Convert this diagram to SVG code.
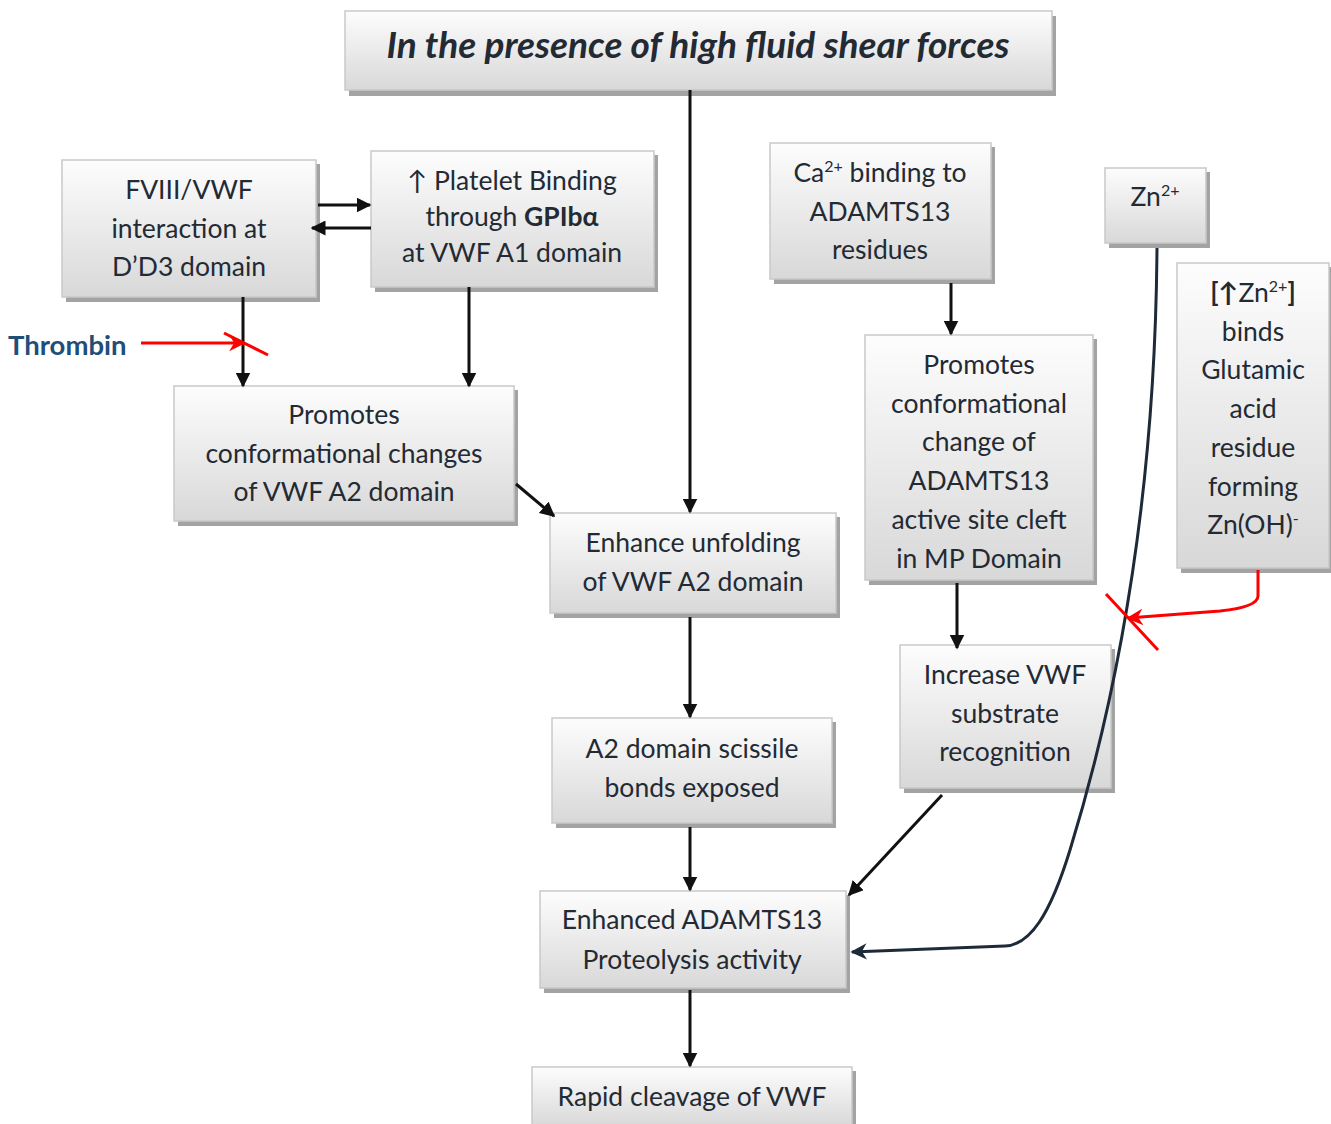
<svg xmlns="http://www.w3.org/2000/svg" width="1331" height="1124" viewBox="0 0 1331 1124">
<defs>
<linearGradient id="g" x1="0" y1="0" x2="0" y2="1">
<stop offset="0" stop-color="#fdfdfd"/>
<stop offset="1" stop-color="#d8d8d8"/>
</linearGradient>
<marker id="ah" viewBox="0 0 10 10" refX="9" refY="5" markerWidth="5" markerHeight="5" orient="auto" markerUnits="strokeWidth">
<path d="M0,0 L10,5 L0,10 z" fill="#111"/>
</marker>
<marker id="ahn" viewBox="0 0 10 10" refX="9" refY="5" markerWidth="5.5" markerHeight="5.5" orient="auto" markerUnits="strokeWidth">
<path d="M0,0 L10,5 L0,10 L3,5 z" fill="#1f2a38"/>
</marker>
<marker id="ahr" viewBox="0 0 10 10" refX="9" refY="5" markerWidth="5.5" markerHeight="5.5" orient="auto" markerUnits="strokeWidth">
<path d="M0,0 L10,5 L0,10 L3,5 z" fill="#ff0000"/>
</marker>
</defs>
<style>
.sh{fill:#a3a3a3}
.bx{fill:url(#g);stroke:#c9c9c9;stroke-width:1.5}
.t{font-family:Lato,"Liberation Sans",sans-serif;font-size:26.5px;fill:#232a34;text-anchor:middle}
.c{stroke:#111;stroke-width:3;fill:none;marker-end:url(#ah)}
.sup{font-size:16px}
</style>
<rect width="1331" height="1124" fill="#fff"/>

<g id="n-title">
<rect class="sh" x="349" y="16" width="707" height="80"/>
<rect class="bx" x="345" y="11" width="707" height="79"/>
<text class="t" x="698" y="58" style="font-size:37px;font-style:italic;font-weight:bold">In the presence of high fluid shear forces</text>
</g>

<g id="n-fviii">
<rect class="sh" x="66" y="164" width="254" height="138"/>
<rect class="bx" x="62" y="160" width="254" height="137"/>
<text class="t" x="189" y="199">FVIII/VWF</text>
<text class="t" x="189" y="238">interaction at</text>
<text class="t" x="189" y="276">D’D3 domain</text>
</g>

<g id="n-platelet">
<rect class="sh" x="375" y="155" width="283" height="137"/>
<rect class="bx" x="371" y="151" width="283" height="136"/>
<text class="t" x="512" y="190">↑ Platelet Binding</text>
<text class="t" x="512" y="226">through <tspan font-weight="bold">GPIbα</tspan></text>
<text class="t" x="512" y="262">at VWF A1 domain</text>
</g>

<g id="n-ca">
<rect class="sh" x="774" y="147" width="221" height="137"/>
<rect class="bx" x="770" y="143" width="221" height="136"/>
<text class="t" x="880" y="182">Ca<tspan class="sup" dy="-10">2+</tspan><tspan dy="10"> binding to</tspan></text>
<text class="t" x="880" y="221">ADAMTS13</text>
<text class="t" x="880" y="259">residues</text>
</g>

<g id="n-zn">
<rect class="sh" x="1109" y="172" width="101" height="76"/>
<rect class="bx" x="1105" y="168" width="101" height="75"/>
<text class="t" x="1155" y="206">Zn<tspan class="sup" dy="-10">2+</tspan></text>
</g>

<g id="n-znbinds">
<rect class="sh" x="1181" y="267" width="150" height="306"/>
<rect class="bx" x="1177" y="263" width="152" height="305"/>
<text class="t" x="1253" y="302"><tspan font-weight="bold">[↑</tspan>Zn<tspan class="sup" dy="-10">2+</tspan><tspan dy="10" font-weight="bold">]</tspan></text>
<text class="t" x="1253" y="341">binds</text>
<text class="t" x="1253" y="379">Glutamic</text>
<text class="t" x="1253" y="418">acid</text>
<text class="t" x="1253" y="457">residue</text>
<text class="t" x="1253" y="496">forming</text>
<text class="t" x="1253" y="534">Zn(OH)<tspan class="sup" dy="-10">-</tspan></text>
</g>

<g id="n-promotes-vwf">
<rect class="sh" x="178" y="390" width="340" height="136"/>
<rect class="bx" x="174" y="386" width="340" height="135"/>
<text class="t" x="344" y="424">Promotes</text>
<text class="t" x="344" y="463">conformational changes</text>
<text class="t" x="344" y="501">of VWF A2 domain</text>
</g>

<g id="n-enhance-unfolding">
<rect class="sh" x="554" y="517" width="286" height="101"/>
<rect class="bx" x="550" y="513" width="286" height="100"/>
<text class="t" x="693" y="552">Enhance unfolding</text>
<text class="t" x="693" y="591">of VWF A2 domain</text>
</g>

<g id="n-promotes-adamts">
<rect class="sh" x="869" y="339" width="228" height="246"/>
<rect class="bx" x="865" y="335" width="228" height="245"/>
<text class="t" x="979" y="374">Promotes</text>
<text class="t" x="979" y="413">conformational</text>
<text class="t" x="979" y="451">change of</text>
<text class="t" x="979" y="490">ADAMTS13</text>
<text class="t" x="979" y="529">active site cleft</text>
<text class="t" x="979" y="568">in MP Domain</text>
</g>

<g id="n-increase">
<rect class="sh" x="904" y="649" width="211" height="144"/>
<rect class="bx" x="900" y="645" width="211" height="143"/>
<text class="t" x="1005" y="684">Increase VWF</text>
<text class="t" x="1005" y="723">substrate</text>
<text class="t" x="1005" y="761">recognition</text>
</g>

<g id="n-a2">
<rect class="sh" x="556" y="722" width="280" height="106"/>
<rect class="bx" x="552" y="718" width="280" height="105"/>
<text class="t" x="692" y="758">A2 domain scissile</text>
<text class="t" x="692" y="797">bonds exposed</text>
</g>

<g id="n-enhanced">
<rect class="sh" x="544" y="895" width="306" height="98"/>
<rect class="bx" x="540" y="891" width="306" height="97"/>
<text class="t" x="692" y="929">Enhanced ADAMTS13</text>
<text class="t" x="692" y="969">Proteolysis activity</text>
</g>

<g id="n-rapid">
<rect class="sh" x="536" y="1071" width="320" height="60"/>
<rect class="bx" x="532" y="1067" width="320" height="60"/>
<text class="t" x="692" y="1106">Rapid cleavage of VWF</text>
</g>

<text id="n-thrombin" x="8" y="355" style="font-family:Lato,'Liberation Sans',sans-serif;font-size:27.5px;font-weight:bold;fill:#1f4e79">Thrombin</text>

<g id="connectors">
<line class="c" x1="690" y1="90" x2="690" y2="512"/>
<line class="c" x1="318" y1="205" x2="370" y2="205"/>
<line class="c" x1="371" y1="228" x2="312" y2="228"/>
<line class="c" x1="243" y1="297" x2="243" y2="386"/>
<line class="c" x1="469" y1="287" x2="469" y2="386"/>
<line class="c" x1="516" y1="484" x2="554" y2="516"/>
<line class="c" x1="690" y1="617" x2="690" y2="717"/>
<line class="c" x1="690" y1="827" x2="690" y2="890"/>
<line class="c" x1="690" y1="990" x2="690" y2="1066"/>
<line class="c" x1="951" y1="283" x2="951" y2="334"/>
<line class="c" x1="957" y1="583" x2="957" y2="648"/>
<line class="c" x1="942" y1="795" x2="849" y2="895"/>
<path d="M1157,248 C1155,520 1110,720 1070,850 C1050,915 1030,945 1005,946 L852,952" stroke="#1f2a38" stroke-width="3" fill="none" marker-end="url(#ahn)"/>
<line x1="141" y1="343" x2="244" y2="343" stroke="#ff0000" stroke-width="3" marker-end="url(#ahr)"/>
<line x1="224" y1="333" x2="268" y2="355" stroke="#ff0000" stroke-width="3"/>
<path d="M1258,570 L1258,596 Q1258,607 1220,611 L1128,618" stroke="#ff0000" stroke-width="3" fill="none" marker-end="url(#ahr)"/>
<line x1="1106" y1="594" x2="1158" y2="650" stroke="#ff0000" stroke-width="3"/>
</g>
</svg>
